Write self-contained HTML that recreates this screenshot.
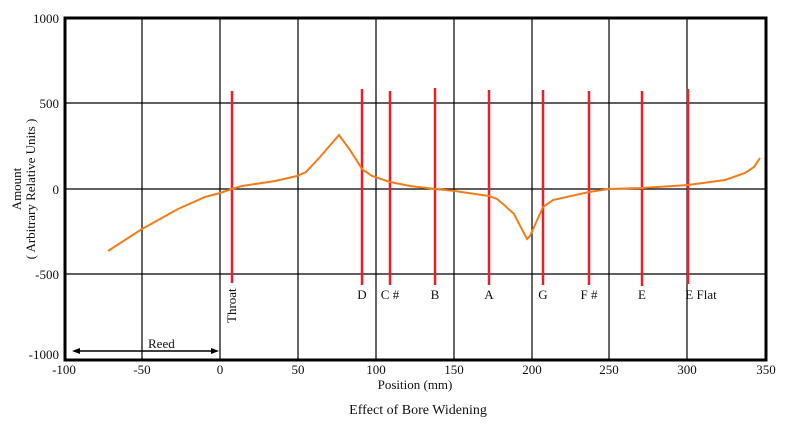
<!DOCTYPE html>
<html><head><style>body{margin:0;background:#fff}svg{display:block}text{font-family:"Liberation Serif",serif;font-size:13px;fill:#111}</style></head><body>
<svg width="792" height="431" xmlns="http://www.w3.org/2000/svg">
<g stroke="#000" stroke-width="1.2">
<line x1="142" y1="18" x2="142" y2="360"/><line x1="220" y1="18" x2="220" y2="360"/><line x1="298" y1="18" x2="298" y2="360"/><line x1="376" y1="18" x2="376" y2="360"/><line x1="454" y1="18" x2="454" y2="360"/><line x1="532" y1="18" x2="532" y2="360"/><line x1="609" y1="18" x2="609" y2="360"/><line x1="687" y1="18" x2="687" y2="360"/>
<line x1="65" y1="103" x2="766" y2="103"/><line x1="65" y1="189" x2="766" y2="189"/><line x1="65" y1="274" x2="766" y2="274"/>
</g>
<rect x="65" y="18" width="701" height="342" fill="none" stroke="#000" stroke-width="3"/>
<g stroke="#e8202a" stroke-width="2.5">
<line x1="232" y1="91" x2="232" y2="283"/><line x1="362" y1="89" x2="362" y2="285"/><line x1="390" y1="91" x2="390" y2="285"/><line x1="435" y1="88" x2="435" y2="285"/><line x1="489" y1="90" x2="489" y2="285"/><line x1="543" y1="90" x2="543" y2="285"/><line x1="589" y1="91" x2="589" y2="285"/><line x1="642" y1="91" x2="642" y2="286"/><line x1="688" y1="89" x2="688" y2="284"/>
</g>
<polyline fill="none" stroke="#f07d1a" stroke-width="2" points="108,251 142,229 178,209 205,197 220,193 232,189 242,186 275,181 297,176 306,172 320,157 339,135 350,150 362,169 372,176 390,182 410,186 435,189 455,191 475,194 489,196 497,199 503,204 514,214 527,239 530,236 543,207 553,200 589,192 609,189 642,188 688,185 725,180 745,173 754,167 760,158"/>
<g stroke="#000" stroke-width="1.5"><line x1="76" y1="351" x2="216" y2="351"/></g>
<polygon points="72,351 80,348 80,354" fill="#000"/><polygon points="219,351 211,348 211,354" fill="#000"/>
<text x="148" y="348">Reed</text>
<g text-anchor="end"><text x="59" y="23">1000</text><text x="59" y="108">500</text><text x="59" y="194">0</text><text x="59" y="279">-500</text><text x="59" y="359">-1000</text></g>
<g text-anchor="middle"><text x="64" y="374">-100</text><text x="142" y="374">-50</text><text x="220" y="374">0</text><text x="298" y="374">50</text><text x="376" y="374">100</text><text x="454" y="374">150</text><text x="532" y="374">200</text><text x="609" y="374">250</text><text x="687" y="374">300</text><text x="766" y="374">350</text>
<text x="415" y="389">Position (mm)</text>
<text x="418" y="414" style="font-size:14px">Effect of Bore Widening</text>
<text x="362" y="299">D</text><text x="390" y="299">C #</text><text x="435" y="299">B</text><text x="489" y="299">A</text><text x="543" y="299">G</text><text x="589" y="299">F #</text><text x="642" y="299">E</text><text x="701" y="299">E Flat</text>
</g>
<text transform="translate(236,323) rotate(-90)">Throat</text>
<g text-anchor="middle"><text transform="translate(21,189) rotate(-90)">Amount</text><text transform="translate(35,189) rotate(-90)">( Arbitrary Relative Units )</text></g>
</svg>
</body></html>
